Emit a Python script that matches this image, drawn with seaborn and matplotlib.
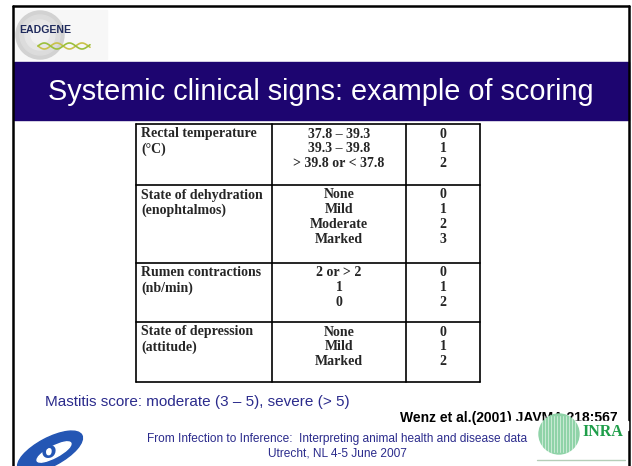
"""
Slide — Systemic clinical signs: example of scoring
Type: Text table on a presentation slide
"""

import numpy as np
import matplotlib.pyplot as plt
import matplotlib.patches as mpatches
import seaborn as sns

# ── Data ──────────────────────────────────────────────────────────────────────
signs = [
    "Rectal temperature\n(°C)",
    "State of dehydration\n(enophtalmos)",
    "Rumen contractions\n(nb/min)",
    "State of depression\n(attitude)",
]
levels = [
    ["37.8 – 39.3", "39.3 – 39.8", "> 39.8 or < 37.8"],
    ["None", "Mild", "Moderate", "Marked"],
    ["2 or > 2", "1", "0"],
    ["None", "Mild", "Marked"],
]
scores = [
    [0, 1, 2],
    [0, 1, 2, 3],
    [0, 1, 2],
    [0, 1, 2],
]

title = "Systemic clinical signs: example of scoring"
note = "Mastitis score: moderate (3 – 5), severe (> 5)"
reference = "Wenz et al.(2001) JAVMA 218:567"
footer = ["From Infection to Inference:  Interpreting animal health and disease data",
          "Utrecht, NL 4-5 June 2007"]

# ── Style ─────────────────────────────────────────────────────────────────────
sns.set_theme(style="white")
plt.rcParams["font.family"] = ["Liberation Sans", "DejaVu Sans"]

NAVY = "#1d0570"
TEXT_NAVY = "#2b2b8c"
SERIF = ["Liberation Serif", "DejaVu Serif"]

# table layout (pixel space)
col_x = [136, 272, 406, 480]
row_y = [124, 185, 263, 322, 382]
line_h = 14.8

fig = plt.figure(figsize=(6.32, 4.66), dpi=100)
ax = fig.add_axes([0, 0, 1, 1])
ax.set_xlim(0, 632)
ax.set_ylim(466, 0)
ax.axis("off")

# slide frame
ax.plot([13, 13], [6, 466], color="black", lw=1.8)
ax.plot([13, 629], [6, 6], color="black", lw=1.8)
ax.plot([629, 629], [6, 466], color="black", lw=1.8)

# title band
ax.add_patch(mpatches.Rectangle((14, 62), 615, 58, color=NAVY, zorder=1))
ax.text(321, 92, title, color="white", fontsize=20.8, ha="center", va="center")

# ── EADGENE logo ─────────────────────────────────────────────────────────────
ax.add_patch(mpatches.Rectangle((15, 10), 92, 49, color="#f7f7f7", zorder=1))
for r, c in zip([24, 20, 15, 9], ["#d2d2d2", "#dcdcdc", "#e7e7e7", "#f1f1f1"]):
    ax.add_patch(mpatches.Circle((40, 35), r, color=c, zorder=2))
ax.text(45, 30, "EADGENE", color="#1f2a5c", fontsize=7.6, fontweight="bold",
        ha="center", va="center", zorder=3)
wx = np.linspace(38, 90, 80)
ax.plot(wx, 46 + 3 * np.sin((wx - 38) / 4), color="#c9c24a", lw=1.2, zorder=3)
ax.plot(wx, 46 - 3 * np.sin((wx - 38) / 4), color="#9bbf3c", lw=1.2, zorder=3)

# ── Table ────────────────────────────────────────────────────────────────────
for y in row_y:
    ax.plot([col_x[0], col_x[-1]], [y, y], color="black", lw=1.2)
for x in col_x:
    ax.plot([x, x], [row_y[0], row_y[-1]], color="black", lw=1.2)

for i, (sign, lev, sc) in enumerate(zip(signs, levels, scores)):
    top = row_y[i] + 10
    for k, part in enumerate(sign.split("\n")):
        ax.text(col_x[0] + 5, top + k * line_h, part, family=SERIF, fontweight="bold",
                fontsize=10, ha="left", va="center")
    for k, (lv, s) in enumerate(zip(lev, sc)):
        ax.text((col_x[1] + col_x[2]) / 2, top + k * line_h, lv, family=SERIF,
                fontweight="bold", fontsize=10, ha="center", va="center")
        ax.text((col_x[2] + col_x[3]) / 2, top + k * line_h, str(s), family=SERIF,
                fontweight="bold", fontsize=10, ha="center", va="center")

# ── Notes & footer ───────────────────────────────────────────────────────────
ax.text(45, 402, note, color=TEXT_NAVY, fontsize=11, ha="left", va="center")
ax.text(618, 418, reference, color="black", fontsize=10, fontweight="bold",
        ha="right", va="center", zorder=2)
ax.text(337, 439, footer[0], color=TEXT_NAVY, fontsize=8.6, ha="center", va="center",
        zorder=4)
ax.text(337, 453, footer[1], color=TEXT_NAVY, fontsize=8.6, ha="center", va="center")

# FP6 logo
ax.add_patch(mpatches.Ellipse((50, 452), 72, 28, angle=-28, color="#2456b4", zorder=2))
ax.add_patch(mpatches.Ellipse((54, 452), 38, 11, angle=-28, color="white", zorder=3))
ax.text(48, 451, "6", color="#2456b4", fontsize=20, fontweight="bold",
        style="italic", ha="center", va="center", zorder=4)

# INRA logo (its white background hides the bottom of the reference line)
ax.add_patch(mpatches.Rectangle((505, 421), 123, 9, color="white", zorder=3))
ax.add_patch(mpatches.Circle((559, 434), 20, color="#8fd3a8", zorder=4))
for sx in np.arange(542, 577, 3):
    ax.plot([sx, sx], [416, 452], color="white", lw=0.6, alpha=0.6, zorder=5)
ax.text(603, 432, "INRA", color="#1f9e4a", fontsize=11.5, fontweight="bold",
        family=SERIF, ha="center", va="center", zorder=5)
ax.plot([537, 625], [460, 460], color="#b5cdb8", lw=1.0, zorder=5)

fig.savefig("out.png", dpi=100)
